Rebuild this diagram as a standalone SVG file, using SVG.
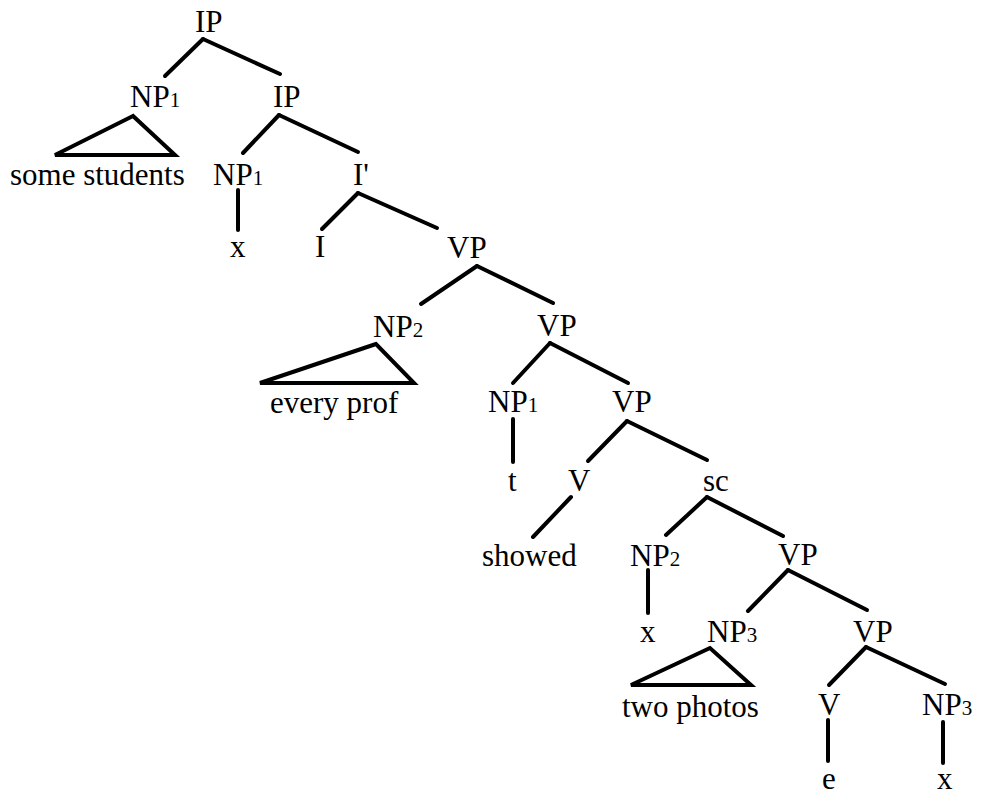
<svg xmlns="http://www.w3.org/2000/svg" width="981" height="796" viewBox="0 0 981 796">
<style>
text{font-family:"Liberation Serif","Times New Roman",serif;font-size:31px;fill:#000}
.s{font-size:21px}
line,polygon{stroke:#000;stroke-width:4;stroke-linecap:round;stroke-linejoin:miter;fill:none}
</style>
<rect width="981" height="796" fill="#fff"/>
<g id="connectors">
<line x1="203" y1="39" x2="165" y2="76"/>
<line x1="203" y1="39" x2="280" y2="74"/>
<polygon points="133,116 55,155 175,155"/>
<line x1="279" y1="115" x2="243" y2="153"/>
<line x1="279" y1="115" x2="358" y2="152"/>
<line x1="238" y1="190" x2="238" y2="230"/>
<line x1="358" y1="193" x2="322" y2="229"/>
<line x1="358" y1="193" x2="437" y2="228"/>
<line x1="477" y1="266" x2="421" y2="304"/>
<line x1="477" y1="266" x2="553" y2="303"/>
<polygon points="376,344 260,383 414,383"/>
<line x1="550" y1="343" x2="513" y2="383"/>
<line x1="550" y1="343" x2="628" y2="383"/>
<line x1="513" y1="419" x2="513" y2="462"/>
<line x1="627" y1="421" x2="588" y2="461"/>
<line x1="627" y1="421" x2="707" y2="460"/>
<line x1="571" y1="497" x2="533" y2="537"/>
<line x1="707" y1="497" x2="666" y2="535"/>
<line x1="707" y1="497" x2="783" y2="536"/>
<line x1="648" y1="570" x2="648" y2="613"/>
<line x1="788" y1="570" x2="748" y2="611"/>
<line x1="788" y1="570" x2="867" y2="610"/>
<polygon points="710,648 631,685 751,685"/>
<line x1="866" y1="647" x2="829" y2="685"/>
<line x1="866" y1="647" x2="945" y2="684"/>
<line x1="828" y1="720" x2="828" y2="761"/>
<line x1="943" y1="722" x2="943" y2="763"/>
</g>
<g id="n_ip1"><text x="195" y="32">IP</text></g>
<g id="n_np1a"><text x="130" y="107">NP<tspan class="s">1</tspan></text></g>
<g id="n_ip2"><text x="273" y="107">IP</text></g>
<g id="n_some_students"><text x="10" y="185">some students</text></g>
<g id="n_np1b"><text x="213" y="185">NP<tspan class="s">1</tspan></text></g>
<g id="n_ibar"><text x="353" y="185">I'</text></g>
<g id="n_x1"><text x="230" y="257">x</text></g>
<g id="n_i"><text x="315" y="257">I</text></g>
<g id="n_vp1"><text x="447" y="258">VP</text></g>
<g id="n_np2a"><text x="373" y="337">NP<tspan class="s">2</tspan></text></g>
<g id="n_vp2"><text x="537" y="336">VP</text></g>
<g id="n_every_prof"><text x="270" y="413">every prof</text></g>
<g id="n_np1c"><text x="488" y="412">NP<tspan class="s">1</tspan></text></g>
<g id="n_vp3"><text x="612" y="412">VP</text></g>
<g id="n_t"><text x="508" y="491">t</text></g>
<g id="n_v1"><text x="568" y="491">V</text></g>
<g id="n_sc"><text x="703" y="491">sc</text></g>
<g id="n_showed"><text x="482" y="566">showed</text></g>
<g id="n_np2b"><text x="630" y="566">NP<tspan class="s">2</tspan></text></g>
<g id="n_vp4"><text x="778" y="565">VP</text></g>
<g id="n_x2"><text x="640" y="642">x</text></g>
<g id="n_np3a"><text x="707" y="642">NP<tspan class="s">3</tspan></text></g>
<g id="n_vp5"><text x="853" y="642">VP</text></g>
<g id="n_two_photos"><text x="622" y="717">two photos</text></g>
<g id="n_v2"><text x="818" y="715">V</text></g>
<g id="n_np3b"><text x="922" y="715">NP<tspan class="s">3</tspan></text></g>
<g id="n_e"><text x="822" y="789">e</text></g>
<g id="n_x3"><text x="937" y="789">x</text></g>
</svg>
